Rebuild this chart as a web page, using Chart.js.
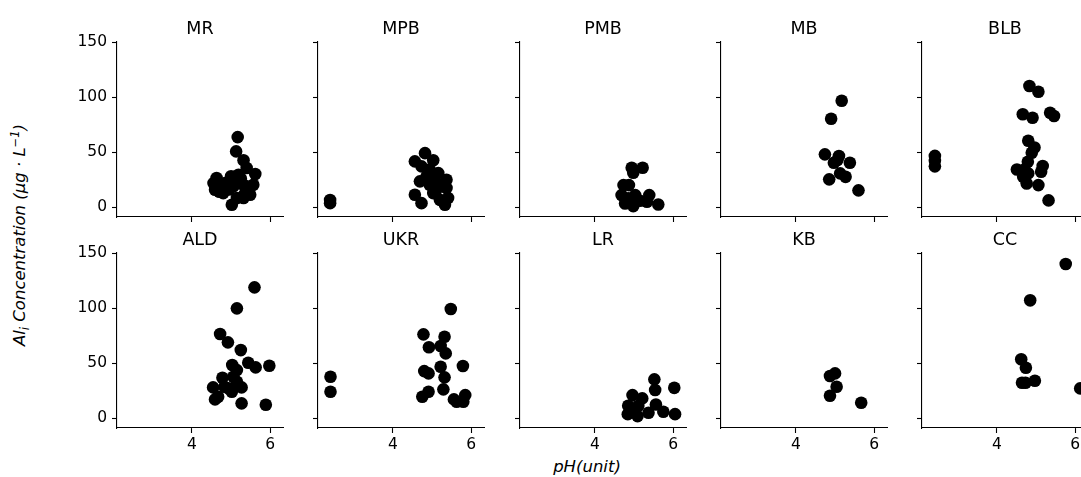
<!DOCTYPE html>
<html>
<head>
<meta charset="utf-8">
<script src="https://cdn.jsdelivr.net/npm/chart.js@4.4.1/dist/chart.umd.min.js"></script>
<style>
  html, body { margin: 0; padding: 0; background: #fff; }
  body { width: 1081px; height: 477px; overflow: hidden; position: relative; font-family: "DejaVu Sans", sans-serif; }
  .panel { position: absolute; }
  .panel canvas { display: block; }
  #ylabel {
    position: absolute; left: 20px; top: 235px;
    transform: translate(-50%, -50%) rotate(-90deg);
    white-space: nowrap; font-size: 16.5px; font-style: italic; color: #000;
  }
  #xlabel {
    position: absolute; left: 587px; top: 466px;
    transform: translate(-50%, -50%);
    white-space: nowrap; font-size: 16.5px; font-style: italic; color: #000;
  }
  sub, sup { font-size: 11.5px; }
</style>
</head>
<body>
<div id="ylabel">Al<sub>i</sub> Concentration (μg · L<sup>−1</sup>)</div>
<div id="xlabel">pH(unit)</div>
<script>
// ---------- Data ----------
const sites = ['MR', 'MPB', 'PMB', 'MB', 'BLB', 'ALD', 'UKR', 'LR', 'KB', 'CC'];

const MR_pH = [5.17, 5.13, 5.32, 5.62, 4.63, 4.55, 4.59, 4.80, 5.02, 5.32, 5.49, 5.57, 5.19, 5.06, 5.32, 5.40, 4.85, 5.15, 4.70, 4.95, 5.25, 5.45, 4.60, 5.10, 5.35, 4.90, 5.00];
const MR_Al = [63.6, 50.6, 42.5, 30, 26.4, 21.8, 15.7, 12.7, 2.1, 8.2, 11.2, 20.3, 29.4, 18.8, 20.3, 35.5, 21.8, 8.2, 14, 16, 26, 17, 19, 24, 12, 22, 28];

const MPB_pH = [2.39, 2.39, 4.82, 4.56, 5.03, 4.73, 4.94, 4.69, 5.03, 5.37, 5.20, 5.37, 4.56, 4.73, 5.03, 5.20, 5.33, 5.41, 4.94, 4.86, 5.16, 5.10];
const MPB_Al = [3.6, 6.5, 49, 41.5, 42.5, 37, 34, 23.4, 26.4, 24.8, 20.3, 17.3, 11.2, 3.6, 12.7, 6.6, 2.1, 8.2, 20.3, 27.9, 30.9, 15];

const PMB_pH = [4.94, 5.22, 4.98, 4.73, 4.87, 4.68, 5.03, 5.39, 4.77, 4.98, 5.15, 5.33, 5.62, 4.85];
const PMB_Al = [35.8, 35.8, 31.2, 20, 20, 10.9, 10.9, 10.9, 3.3, 0.9, 5.7, 4.8, 2.4, 7.9];

const MB_pH = [5.17, 4.90, 4.74, 5.10, 4.97, 5.38, 5.06, 5.13, 5.27, 4.85, 5.60];
const MB_Al = [96.6, 80.3, 47.9, 46.4, 40.3, 40.3, 42.7, 30.6, 27.5, 25.2, 15.2];

const BLB_pH = [2.41, 2.41, 2.41, 4.83, 5.06, 4.66, 4.91, 5.36, 5.46, 4.80, 4.96, 4.89, 4.79, 4.51, 5.17, 5.13, 4.70, 4.67, 4.76, 5.06, 5.32, 4.80];
const BLB_Al = [46.5, 42, 37, 110, 104.8, 84.3, 81.2, 85.7, 82.7, 60.3, 54.2, 49.4, 41.2, 34.2, 37.3, 32.1, 34.2, 27.5, 21.5, 20, 6.1, 30.6];

const ALD_pH = [5.60, 5.15, 4.72, 4.92, 5.25, 5.03, 5.44, 5.63, 5.98, 5.15, 4.78, 5.06, 5.15, 4.54, 4.93, 5.02, 5.27, 4.59, 4.67, 5.27, 5.89, 4.83];
const ALD_Al = [118.8, 99.7, 76.4, 68.8, 61.8, 48.2, 50.3, 46.1, 47.5, 43.6, 36.6, 37.6, 33, 27.9, 27, 23.9, 27.9, 17, 19.4, 13.4, 12.1, 28.5];

const UKR_pH = [2.40, 2.40, 5.48, 4.78, 5.32, 4.92, 5.22, 5.35, 5.22, 5.79, 4.80, 4.91, 5.32, 5.29, 4.91, 4.75, 5.56, 5.80, 5.85, 5.63];
const UKR_Al = [37.6, 23.9, 99.1, 76.1, 73.9, 64.3, 65.5, 58.8, 46.6, 47.3, 42.7, 40.6, 37, 26.1, 23.9, 19.4, 17, 14.8, 20.9, 14.8];

const LR_pH = [5.52, 5.54, 6.03, 4.96, 5.21, 5.56, 4.85, 5.11, 5.75, 6.05, 4.84, 5.09, 5.37, 5.03];
const LR_Al = [35.2, 25.5, 27.5, 20.9, 17.9, 12.4, 11.2, 11.2, 5.7, 3.6, 3.6, 1.8, 4.8, 7.3];

const KB_pH = [5.00, 4.87, 5.04, 4.87, 5.67];
const KB_Al = [40.6, 38.2, 28.5, 20.3, 13.9];

const CC_pH = [5.76, 4.85, 4.62, 4.74, 4.64, 4.73, 4.97, 6.13];
const CC_Al = [140, 107, 53.4, 45.7, 32.1, 32.1, 33.9, 27];

const xTicks = [4, 6];
const yTicks = [0, 50, 100, 150];

const siteData = {
  MR: [MR_pH, MR_Al], MPB: [MPB_pH, MPB_Al], PMB: [PMB_pH, PMB_Al], MB: [MB_pH, MB_Al],
  BLB: [BLB_pH, BLB_Al], ALD: [ALD_pH, ALD_Al], UKR: [UKR_pH, UKR_Al], LR: [LR_pH, LR_Al],
  KB: [KB_pH, KB_Al], CC: [CC_pH, CC_Al]
};

// ---------- Layout ----------
const colLeft = [117, 318, 519.5, 721, 922];
const rowTop = [42, 253];
const plotW = 166, plotH = 175;
const padTop = 32, padRight = 20, yAxisW = 50, xAxisH = 40;

// panel title drawn above the plot area
const panelTitle = {
  id: 'panelTitle',
  afterDraw(chart, args, opts) {
    const { ctx, chartArea } = chart;
    ctx.save();
    ctx.font = '17.5px "DejaVu Sans"';
    ctx.fillStyle = '#000';
    ctx.textAlign = 'center';
    ctx.textBaseline = 'alphabetic';
    ctx.fillText(opts.text, (chartArea.left + chartArea.right) / 2, chartArea.top - 8);
    ctx.restore();
  }
};

sites.forEach((name, i) => {
  const row = Math.floor(i / 5), col = i % 5;
  const w = yAxisW + plotW + padRight, h = padTop + plotH + xAxisH;
  const wrap = document.createElement('div');
  wrap.className = 'panel';
  wrap.style.left = (colLeft[col] - yAxisW) + 'px';
  wrap.style.top = (rowTop[row] - padTop) + 'px';
  wrap.style.width = w + 'px';
  wrap.style.height = h + 'px';
  const canvas = document.createElement('canvas');
  canvas.width = w;
  canvas.height = h;
  canvas.style.width = w + 'px';
  canvas.style.height = h + 'px';
  wrap.appendChild(canvas);
  document.body.appendChild(wrap);

  const [pH, al] = siteData[name];
  const points = pH.map((x, k) => ({ x, y: al[k] }));

  const axisCommon = {
    type: 'linear',
    border: { display: true, color: '#000', width: 1.1 },
    grid: { display: true, drawOnChartArea: false, drawTicks: true, tickLength: 5, tickWidth: 1.1, tickColor: '#000' }
  };

  new Chart(canvas.getContext('2d'), {
    type: 'scatter',
    data: {
      datasets: [{
        data: points,
        backgroundColor: '#000',
        borderColor: '#000',
        borderWidth: 0,
        pointRadius: 6.3,
        pointHoverRadius: 6.3
      }]
    },
    options: {
      responsive: false,
      animation: false,
      devicePixelRatio: 1,
      layout: { padding: { top: padTop, right: padRight, left: 0, bottom: 0 } },
      scales: {
        x: {
          ...axisCommon,
          min: 2.08, max: 6.33,
          afterBuildTicks: (s) => { s.ticks = xTicks.map(v => ({ value: v })); },
          afterFit: (s) => { s.height = xAxisH; },
          ticks: { display: row === 1, padding: 3, color: '#000', font: { family: 'DejaVu Sans', size: 15.5 }, maxRotation: 0 }
        },
        y: {
          ...axisCommon,
          min: -9, max: 150,
          afterBuildTicks: (s) => { s.ticks = yTicks.map(v => ({ value: v })); },
          afterFit: (s) => { s.width = yAxisW; },
          ticks: { display: col === 0, padding: 5, color: '#000', font: { family: 'DejaVu Sans', size: 15.5 } }
        }
      },
      plugins: {
        legend: { display: false },
        tooltip: { enabled: false },
        panelTitle: { text: name }
      }
    },
    plugins: [panelTitle]
  });
});
</script>
</body>
</html>
